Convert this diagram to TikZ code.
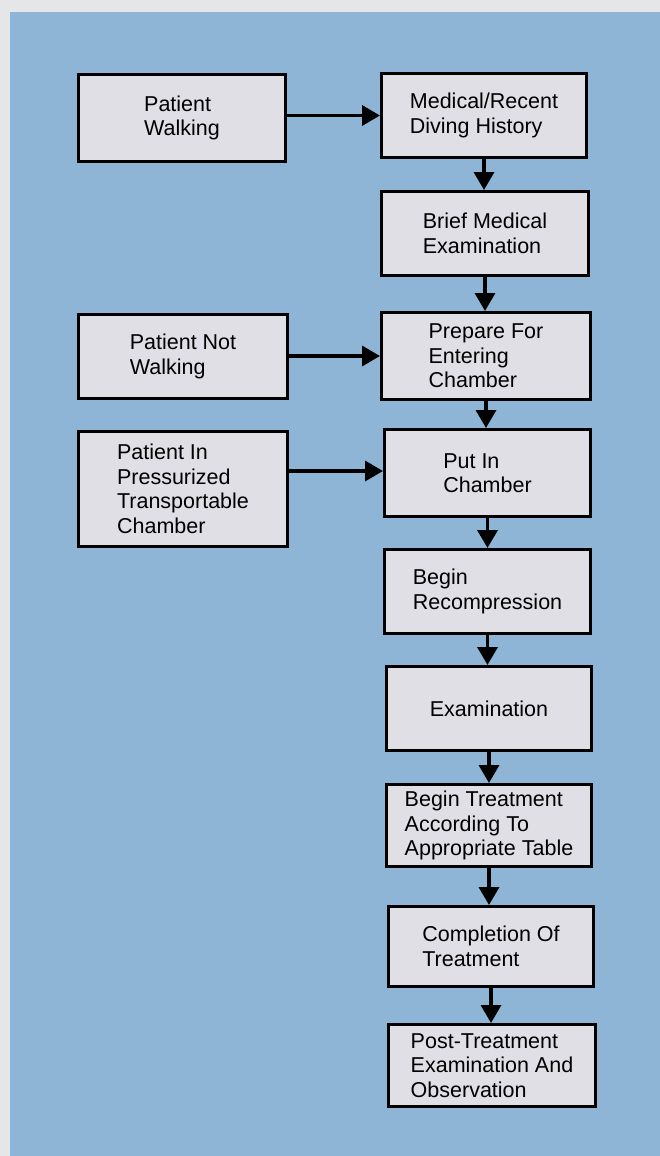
\documentclass[tikz,border=0pt]{standalone}
\usepackage{fontspec}
\setmainfont{Liberation Sans}
\usetikzlibrary{arrows.meta}
\definecolor{panel}{RGB}{142,181,213}
\definecolor{frame}{RGB}{229,230,232}
\definecolor{boxfill}{RGB}{223,223,229}
\tikzset{
  stepbox/.style={draw=black, line width=3pt, fill=boxfill, align=left,
    inner sep=0pt, text=black,
    font=\fontsize{21.5}{24.5}\selectfont},
  flow/.style={line width=3.5pt, -{Triangle[length=18pt,width=20pt]}}
}
\begin{document}
\begin{tikzpicture}[x=1pt,y=-1pt]
  % frame and blue panel
  \fill[frame] (0,0) rectangle (660,1156);
  \fill[panel] (10,12) rectangle (660,1156);
  \useasboundingbox (0,0) rectangle (660,1156);

  % left column
  \node[stepbox, minimum width=207pt, minimum height=87pt] (walk) at (182,118) {Patient\\Walking};
  \node[stepbox, minimum width=209pt, minimum height=84pt] (notwalk) at (183,356.5) {Patient Not\\Walking};
  \node[stepbox, minimum width=209pt, minimum height=115pt] (press) at (183,489) {Patient In\\Pressurized\\Transportable\\Chamber};

  % main column
  \node[stepbox, minimum width=205pt, minimum height=84pt] (hist) at (484,115.5) {Medical/Recent\\Diving History};
  \node[stepbox, minimum width=207pt, minimum height=84pt] (brief) at (485,233.5) {Brief Medical\\Examination};
  \node[stepbox, minimum width=209pt, minimum height=87pt] (prep) at (486,356) {Prepare For\\Entering\\Chamber};
  \node[stepbox, minimum width=206pt, minimum height=87pt] (put) at (487.5,473) {Put In\\Chamber};
  \node[stepbox, minimum width=206pt, minimum height=84pt] (recomp) at (487.5,591.5) {Begin\\Recompression};
  \node[stepbox, minimum width=205pt, minimum height=84pt] (exam) at (489,708.5) {Examination};
  \node[stepbox, minimum width=205pt, minimum height=82pt] (treat) at (489,825.5) {Begin Treatment\\According To\\Appropriate Table};
  \node[stepbox, minimum width=205pt, minimum height=80pt] (compl) at (491,946.5) {Completion Of\\Treatment};
  \node[stepbox, minimum width=207pt, minimum height=82pt] (post) at (492,1065.5) {Post-Treatment\\Examination And\\Observation};

  % entry arrows
  \draw[flow] (hist.west -| walk.east) -- (hist.west);
  \draw[flow] (prep.west -| notwalk.east) -- (prep.west);
  \draw[flow] ([yshift=2pt]put.west -| press.east) -- ([yshift=2pt]put.west);

  % main sequence
  \foreach \a/\b in {hist/brief, brief/prep, prep/put, put/recomp, recomp/exam,
                     exam/treat, treat/compl, compl/post}
    \draw[flow] (\a.south) -- (\a.south |- \b.north);
\end{tikzpicture}
\end{document}
